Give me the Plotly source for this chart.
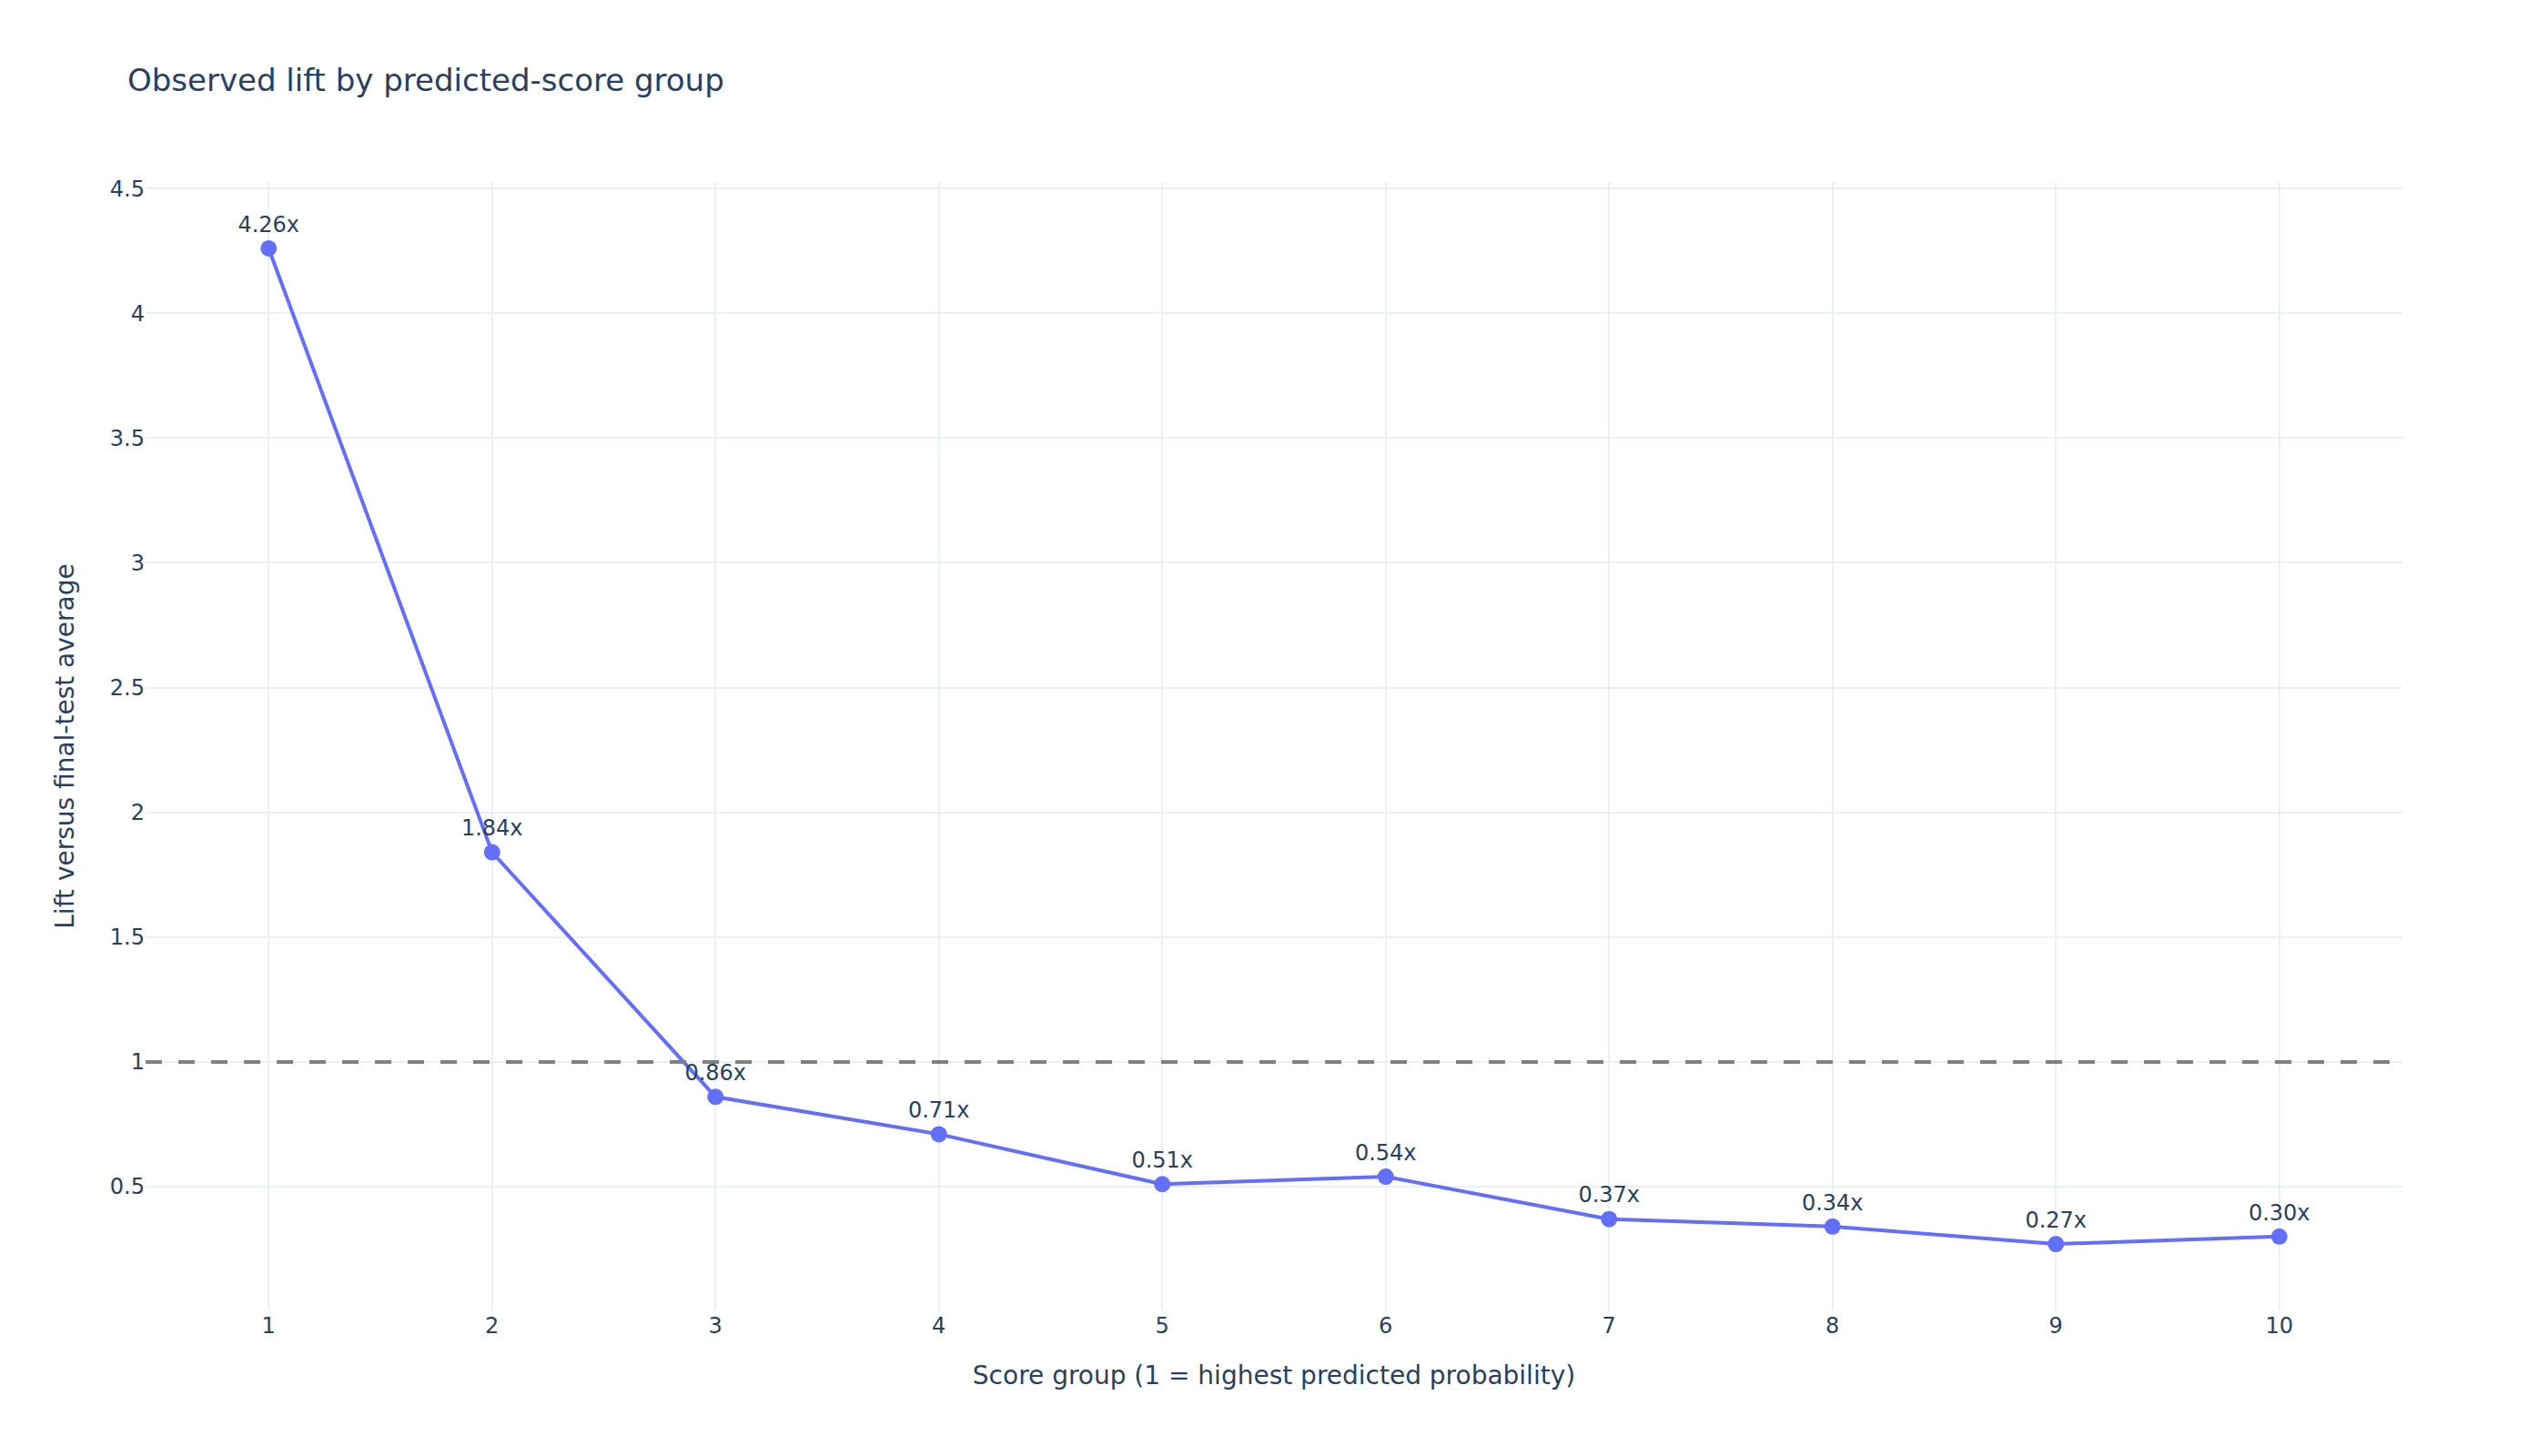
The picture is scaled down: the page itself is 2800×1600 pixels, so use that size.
import plotly.graph_objects as go

# lift per score group
score_groups = [1, 2, 3, 4, 5, 6, 7, 8, 9, 10]
lift_values = [4.26, 1.84, 0.86, 0.71, 0.51, 0.54, 0.37, 0.34, 0.27, 0.30]
baseline_lift = 1.0

fig = go.Figure(go.Scatter(
    x=score_groups,
    y=lift_values,
    mode='lines+markers+text',
    text=[f"{v:.2f}x" for v in lift_values],
    textposition='top center',
    line=dict(color='#636EFA', width=4),
    marker=dict(size=18, color='#636EFA'),
    showlegend=False,
))

fig.add_hline(y=baseline_lift, line_dash='18px,18px', line_color='gray', line_width=4)

# page body adds 8px, so the figure is a bit smaller than the window
fig.update_layout(
    template='plotly_white',
    width=2784, height=1584,
    margin=dict(l=152, r=152, t=192, b=152),
    font=dict(family='Verdana, DejaVu Sans, sans-serif', size=24),
    title=dict(text='Observed lift by predicted-score group', x=0.0474,
               y=0.9495, yanchor='middle', font=dict(size=34)),
    xaxis=dict(title=dict(text='Score group (1 = highest predicted probability)',
                          font=dict(size=28), standoff=31),
               dtick=1, gridwidth=2, zeroline=False),
    yaxis=dict(title=dict(text='Lift versus final-test average',
                          font=dict(size=28), standoff=31),
               range=[0.004, 4.526], gridwidth=2, zeroline=False),
)

fig.write_html("out.html")
